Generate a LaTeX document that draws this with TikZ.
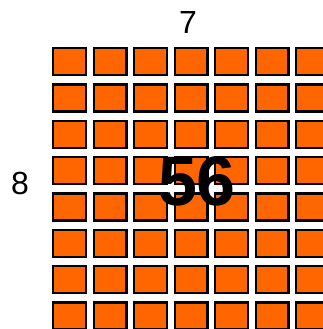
\documentclass[tikz,border=0pt]{standalone}
\usepackage{fontspec}
\setmainfont{Liberation Sans}
\usetikzlibrary{positioning}
\definecolor{tileorange}{HTML}{FF6600}

\begin{document}
\begin{tikzpicture}[x=1pt, y=-1pt, tile/.style={fill=tileorange, draw=black, line width=2.4pt}]
  \useasboundingbox (0,0) rectangle (323,329);
  \clip (0,0) rectangle (323,329);
  % 7 columns, 8 rows of tiles
  \foreach \i in {0,...,6}
    \foreach \j in {0,...,7}
      \draw[tile] ({53.2+40.5*\i},{48.2+36.3*\j}) rectangle ++(32.6,27);
  \node[font=\fontsize{32}{32}\selectfont] (cols) at (188,22) {7};
  \node[font=\fontsize{32}{32}\selectfont] (rows) at (20,183) {8};
  \node[font=\fontsize{70}{70}\selectfont\bfseries] (area) at (197,181) {56};
\end{tikzpicture}
\end{document}
